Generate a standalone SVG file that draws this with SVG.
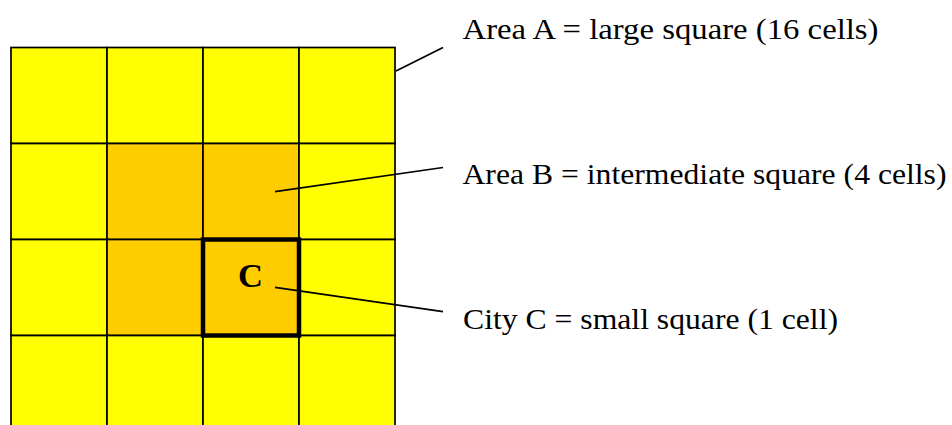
<svg xmlns="http://www.w3.org/2000/svg" width="952" height="425" viewBox="0 0 952 425">
<style>
.cell{stroke:#000;stroke-width:1.7}
.y{fill:#FFFF00}
.o{fill:#FFCC00}
.lbl{font-family:"Liberation Serif","Times New Roman",serif;font-size:29px;fill:#000}
.lead{stroke:#000;stroke-width:1.7;fill:none}
</style>
<rect width="952" height="425" fill="#fff"/>
<g id="grid">
<rect class="cell y" x="11" y="47.5" width="96" height="96"/>
<rect class="cell y" x="107" y="47.5" width="96" height="96"/>
<rect class="cell y" x="203" y="47.5" width="96" height="96"/>
<rect class="cell y" x="299" y="47.5" width="96" height="96"/>
<rect class="cell y" x="11" y="143.5" width="96" height="96"/>
<rect class="cell o" x="107" y="143.5" width="96" height="96"/>
<rect class="cell o" x="203" y="143.5" width="96" height="96"/>
<rect class="cell y" x="299" y="143.5" width="96" height="96"/>
<rect class="cell y" x="11" y="239.5" width="96" height="96"/>
<rect class="cell o" x="107" y="239.5" width="96" height="96"/>
<rect class="cell o" x="203" y="239.5" width="96" height="96"/>
<rect class="cell y" x="299" y="239.5" width="96" height="96"/>
<rect class="cell y" x="11" y="335.5" width="96" height="96"/>
<rect class="cell y" x="107" y="335.5" width="96" height="96"/>
<rect class="cell y" x="203" y="335.5" width="96" height="96"/>
<rect class="cell y" x="299" y="335.5" width="96" height="96"/>
</g>
<g id="cityC">
<rect x="203" y="239.5" width="96" height="96" fill="none" stroke="#000" stroke-width="4.5"/>
<text x="238" y="287" font-family="'Liberation Serif','Times New Roman',serif" font-size="33" font-weight="bold" textLength="25" lengthAdjust="spacingAndGlyphs">C</text>
</g>
<g id="connectors">
<line class="lead" x1="396" y1="71" x2="443" y2="47.5"/>
<line class="lead" x1="275" y1="191.7" x2="443" y2="167.5"/>
<line class="lead" x1="275" y1="287.3" x2="443" y2="311.7"/>
</g>
<g id="labelA"><text class="lbl" x="462.5" y="38.5" textLength="416" lengthAdjust="spacingAndGlyphs">Area A = large square (16 cells)</text></g>
<g id="labelB"><text class="lbl" x="462.5" y="183.5" textLength="484" lengthAdjust="spacingAndGlyphs">Area B = intermediate square (4 cells)</text></g>
<g id="labelC"><text class="lbl" x="463" y="328.5" textLength="375" lengthAdjust="spacingAndGlyphs">City C = small square (1 cell)</text></g>
</svg>
